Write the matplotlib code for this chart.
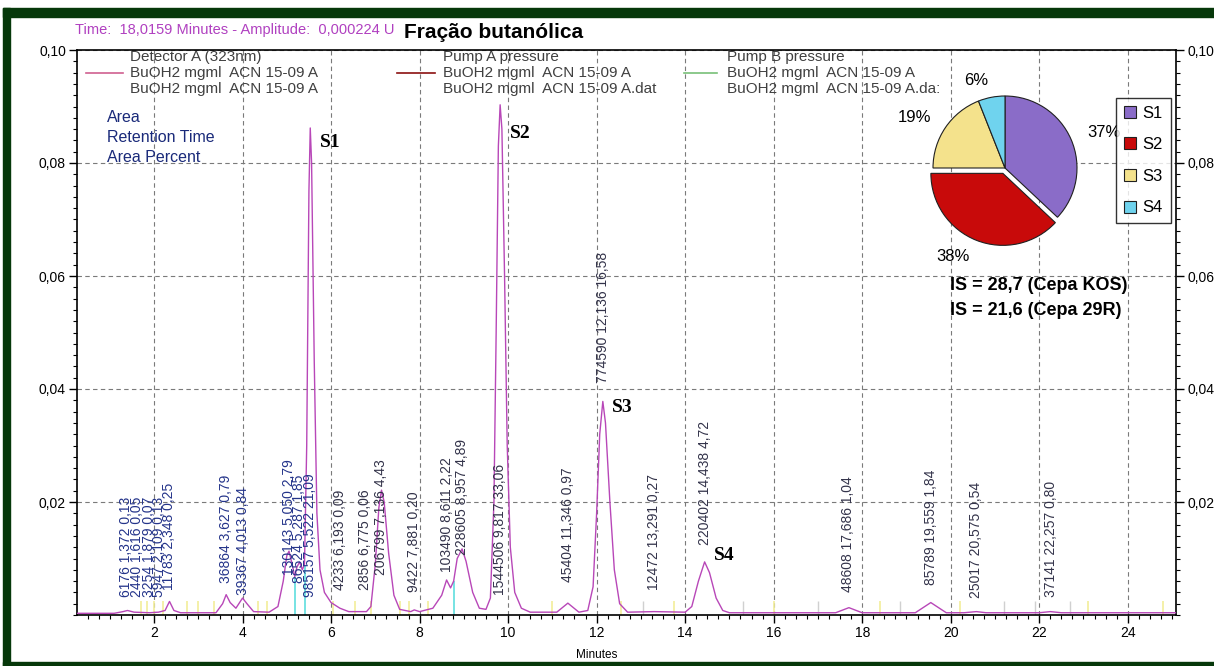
# %%
import matplotlib
matplotlib.use("Agg")
import matplotlib.pyplot as plt
from matplotlib.ticker import MultipleLocator, FixedLocator, FuncFormatter
from matplotlib.patches import Rectangle

W, H = 1214, 666

# %% data
# chromatogram trace, minutes / AU
trace_t = [0.26, 1.10, 1.30, 1.40, 1.55, 1.90, 2.10, 2.25, 2.35, 2.45, 2.60,
           3.40, 3.55, 3.63, 3.72, 3.85, 4.00, 4.10, 4.25, 4.60,
           4.80, 4.92, 5.00, 5.05, 5.12, 5.18, 5.23, 5.29, 5.35, 5.40, 5.45,
           5.50, 5.53, 5.56, 5.62, 5.68, 5.75, 5.85, 6.00, 6.20, 6.40, 6.80,
           6.90, 7.00, 7.08, 7.14, 7.20, 7.30, 7.42, 7.55, 7.80, 7.88, 8.00,
           8.30, 8.50, 8.61, 8.70, 8.77, 8.85, 8.96, 9.05, 9.20, 9.35, 9.50,
           9.60, 9.68, 9.73, 9.78, 9.82, 9.86, 9.92, 9.98, 10.05, 10.15, 10.30,
           10.50, 11.10, 11.35, 11.60, 11.80, 11.92, 12.00, 12.07, 12.14, 12.20,
           12.30, 12.40, 12.52, 12.70, 13.30, 14.00, 14.15, 14.30, 14.44, 14.55,
           14.70, 14.85, 15.00, 17.40, 17.70, 18.00, 19.20, 19.55, 19.90, 20.30,
           20.58, 20.80, 22.00, 22.25, 22.50, 25.09]
trace_a = [0.0003, 0.0003, 0.0006, 0.0008, 0.0005, 0.0004, 0.0005, 0.0008, 0.0024, 0.0008, 0.0004,
           0.0004, 0.0020, 0.0036, 0.0022, 0.0012, 0.0030, 0.0020, 0.0006, 0.0005,
           0.0015, 0.0060, 0.0105, 0.0113, 0.0090, 0.0068, 0.0085, 0.0094, 0.0080, 0.0090, 0.0300,
           0.0750, 0.0862, 0.0800, 0.0450, 0.0180, 0.0080, 0.0040, 0.0022, 0.0012, 0.0006, 0.0006,
           0.0015, 0.0090, 0.0190, 0.0221, 0.0200, 0.0110, 0.0035, 0.0010, 0.0006, 0.0009, 0.0006,
           0.0012, 0.0035, 0.0062, 0.0048, 0.0060, 0.0100, 0.0117, 0.0095, 0.0040, 0.0012, 0.0010,
           0.0030, 0.0200, 0.0500, 0.0830, 0.0903, 0.0860, 0.0600, 0.0300, 0.0120, 0.0040, 0.0012,
           0.0005, 0.0005, 0.0021, 0.0005, 0.0008, 0.0050, 0.0180, 0.0320, 0.0378, 0.0340,
           0.0200, 0.0080, 0.0020, 0.0005, 0.0006, 0.0005, 0.0015, 0.0060, 0.0094, 0.0075,
           0.0030, 0.0008, 0.0004, 0.0004, 0.0013, 0.0004, 0.0004, 0.0022, 0.0004, 0.0004,
           0.0006, 0.0004, 0.0004, 0.0006, 0.0004, 0.0004]

# integration table: area, retention time (min), area percent
peak_area = [6176, 2440, 3254, 5947, 11783, 36864, 39367, 130143, 86524, 985157,
             4233, 2856, 206799, 9422, 103490, 228605, 1544506, 45404, 774590,
             12472, 220402, 48608, 85789, 25017, 37141]
peak_rt = [1.372, 1.616, 1.879, 2.109, 2.348, 3.627, 4.013, 5.050, 5.287, 5.522,
           6.193, 6.775, 7.136, 7.881, 8.611, 8.957, 9.817, 11.346, 12.136,
           13.291, 14.438, 17.686, 19.559, 20.575, 22.257]
peak_pct = [0.13, 0.05, 0.07, 0.13, 0.25, 0.79, 0.84, 2.79, 1.85, 21.09,
            0.09, 0.06, 4.43, 0.20, 2.22, 4.89, 33.06, 0.97, 16.58,
            0.27, 4.72, 1.04, 1.84, 0.54, 0.80]
# height (AU) where each rotated label starts
label_base = [0.0032, 0.0032, 0.0032, 0.0032, 0.0044, 0.0057, 0.0035, 0.0071, 0.0057, 0.0032,
              0.0044, 0.0044, 0.0071, 0.0041, 0.0076, 0.0106, 0.0035, 0.0058, 0.0411,
              0.0044, 0.0124, 0.0041, 0.0053, 0.0030, 0.0032]

# named peaks
s_names = ["S1", "S2", "S3", "S4"]
s_rt = [5.522, 9.817, 12.136, 14.438]
s_height = [0.0836, 0.0853, 0.0368, 0.0106]

# event marks near the baseline
mark_yellow = [1.70, 1.85, 2.00, 2.20, 2.75, 3.00, 3.35, 4.35, 4.55, 6.05, 6.55,
               6.90, 7.55, 7.75, 8.20, 11.00, 12.55, 13.75, 16.00, 18.40, 20.20,
               23.10, 24.80]
mark_gray = [13.05, 15.30, 17.00, 18.85, 21.20, 21.90, 22.70]
mark_cyan = [5.18, 5.40, 8.77]
mark_cyan_top = [0.0068, 0.0088, 0.0060]

# pie inset
pie_pct = [37, 38, 19, 6]
pie_colors = ["#8a6cc8", "#c80a0a", "#f4e28c", "#6fd3ee"]
pie_explode = [0, 0.08, 0, 0]

# %% figure
fig = plt.figure(figsize=(W / 100, H / 100), dpi=100)
plt.rcParams["font.family"] = ["Liberation Sans", "DejaVu Sans"]


def fx(x):
    return x / W


def fy(y):
    return 1 - y / H


# dark green frame (top, left, bottom)
green = "#06380a"
for r in [(3, 8, W - 3, 9), (3, 8, 7, H - 8), (3, H - 4, W - 3, 4)]:
    fig.patches.append(Rectangle((fx(r[0]), fy(r[1] + r[3])), r[2] / W, r[3] / H,
                                 transform=fig.transFigure, color=green, zorder=0))

ax = fig.add_axes([fx(77), fy(615), 1099 / W, 565 / H])
ax.set_xlim(0.26, 25.09)
ax.set_ylim(0, 0.10)

ax.plot(trace_t, trace_a, color="#b847b8", lw=1.0, zorder=3)
ax.vlines(mark_yellow, 0, 0.0025, color="#f2ee9a", lw=1.2, zorder=2)
ax.vlines(mark_gray, 0, 0.0025, color="#d0d0d0", lw=1.0, zorder=2)
ax.vlines(mark_cyan, 0, mark_cyan_top, color="#5fdede", lw=1.2, zorder=2)

for area, rt, pct, yb in zip(peak_area, peak_rt, peak_pct, label_base):
    txt = f"{area} {rt:.3f} {pct:.2f}".replace(".", ",")
    col = "#24348a" if rt < 6 else "#33334a"
    ax.text(rt, yb, txt, rotation=90, ha="center", va="bottom", fontsize=10, color=col, zorder=4)

for name, rt, h in zip(s_names, s_rt, s_height):
    ax.text(rt + 0.22, h, name, fontsize=14, fontweight="bold", family="Liberation Serif",
            ha="left", va="center", zorder=4)

# axes, ticks, grid
ax.xaxis.set_major_locator(MultipleLocator(2))
ax.xaxis.set_minor_locator(MultipleLocator(0.25))
ax.yaxis.set_major_locator(FixedLocator([0.02, 0.04, 0.06, 0.08, 0.10]))
ax.yaxis.set_minor_locator(MultipleLocator(0.002))
ax.yaxis.set_major_formatter(FuncFormatter(lambda v, p: f"{v:.2f}".replace(".", ",")))
ax.tick_params(which="major", direction="out", length=6, width=1, labelsize=10, pad=2)
ax.tick_params(which="minor", direction="out", length=3, width=0.8)
ax.tick_params(axis="y", which="both", right=True, labelright=True)
ax.grid(True, which="major", color="#7a7a7a", ls=(0, (4, 3)), lw=0.8)
for s in ax.spines.values():
    s.set_linewidth(1.2)
fig.text(fx(597), fy(655), "Minutes", fontsize=8.5, ha="center", va="center")

# header texts
fig.text(fx(75), fy(30), "Time:  18,0159 Minutes - Amplitude:  0,000224 U", fontsize=10.5,
         color="#b040c0", va="center", ha="left")
fig.text(fx(404), fy(33), "Fração butanólica", fontsize=15, fontweight="bold",
         va="center", ha="left", bbox=dict(fc="white", ec="none", pad=1))

# trace legend block
leg = [(86, 123, 130, "Detector A (323nm)", "#d06090", "A"),
       (397, 435, 443, "Pump A pressure", "#8b1010", "A.dat"),
       (684, 717, 727, "Pump B pressure", "#78c078", "A.da:")]
for x0, x1, xt, head, col, tail in leg:
    fig.text(fx(xt), fy(57), head, fontsize=11, color="#404040", va="center")
    fig.add_artist(plt.Line2D([fx(x0), fx(x1)], [fy(73), fy(73)], color=col, lw=1.2))
    fig.text(fx(xt), fy(73), "BuOH2 mgml  ACN 15-09 A", fontsize=11, color="#404040", va="center")
    fig.text(fx(xt), fy(89), "BuOH2 mgml  ACN 15-09 " + tail, fontsize=11, color="#404040", va="center")

for i, t in enumerate(["Area", "Retention Time", "Area Percent"]):
    fig.text(fx(107), fy(118 + 20 * i), t, fontsize=11.5, color="#1a2a7a", va="center")

# pie inset
r = 72
pax = fig.add_axes([fx(1005 - 100), fy(168 + 100), 200 / W, 200 / H])
wedges, texts = pax.pie(pie_pct, colors=pie_colors, explode=pie_explode, startangle=90,
                        counterclock=False, labels=[f"{p}%" for p in pie_pct],
                        labeldistance=1.24, wedgeprops=dict(edgecolor="#202020", lw=0.8),
                        textprops=dict(fontsize=12))
pax.set_xlim(-100 / r, 100 / r)
pax.set_ylim(-100 / r, 100 / r)
pax.set_aspect("equal")
pax.axis("off")

fig.legend(wedges, s_names, loc="upper left", bbox_to_anchor=(fx(1116), fy(98)),
           fontsize=12, frameon=True, fancybox=False, edgecolor="black",
           handlelength=0.75, handleheight=0.75, handletextpad=0.4, labelspacing=1.0,
           borderpad=0.45, borderaxespad=0)

fig.text(fx(950), fy(285), "IS = 28,7 (Cepa KOS)", fontsize=13, fontweight="bold", va="center")
fig.text(fx(950), fy(310), "IS = 21,6 (Cepa 29R)", fontsize=13, fontweight="bold", va="center")

fig.savefig("out.png", dpi=100, facecolor="white")
